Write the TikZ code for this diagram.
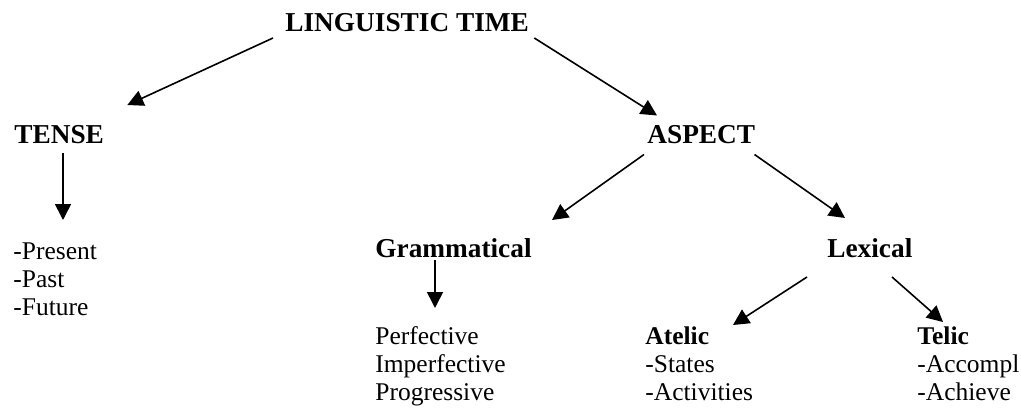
\documentclass[tikz,border=0pt]{standalone}
\usepackage{fontspec}
\setmainfont{Liberation Serif}
\usetikzlibrary{arrows.meta, calc}

\begin{document}
\begin{tikzpicture}[x=0.5pt, y=-0.5pt,
  head/.style={inner sep=0pt, anchor=base west, font=\fontsize{13.65}{16}\selectfont\bfseries},
  items/.style={inner sep=0pt, anchor=base west, align=left, font=\fontsize{12.75}{14}\selectfont},
  arr/.style={-{Triangle[length=8pt, width=8pt]}, line width=0.8pt}]
  \useasboundingbox (0,0) rectangle (1021,407);

  % Top
  \node[head] (ling) at (285, 32) {LINGUISTIC TIME};

  % Tense branch (lists are placed by their last line)
  \node[head] (tense) at (14, 143) {TENSE};
  \node[items] (tenselist) at (13, 315) {-Present\\-Past\\-Future};
  \draw[arr] ($(ling.base west)+(-12,6)$) -- ($(tense.base east)+(23,-38)$);
  \draw[arr] ($(tense.base west)+(49,10)$) -- ($(tenselist.base west)+(50,-95)$);

  % Aspect branch
  \node[head] (aspect) at (647, 143.5) {ASPECT};
  \draw[arr] ($(ling.base east)+(5,6)$) -- ($(aspect.base west)+(10,-28)$);

  \node[head] (gram) at (375, 257) {Grammatical};
  \node[items] (gramlist) at (375, 400) {Perfective\\Imperfective\\Progressive};
  \draw[arr] ($(aspect.base west)+(-3,11)$) -- ($(gram.base east)+(20,-37)$);
  \draw[arr] ($(gram.base west)+(60,3)$) -- ($(gramlist.base west)+(60,-92)$);

  \node[head] (lex) at (827, 257) {Lexical};
  \draw[arr] ($(aspect.base east)+(-1,11)$) -- ($(lex.base west)+(18,-39)$);

  % Lexical subtypes
  \node[items] (atelic) at (645, 400) {\textbf{Atelic}\\-States\\-Activities};
  \node[items] (telic) at (917, 400) {\textbf{Telic}\\-Accompl\\-Achieve};
  \draw[arr] ($(lex.base west)+(-20,20)$) -- ($(atelic.base west)+(88,-75)$);
  \draw[arr] ($(lex.base west)+(65,20)$) -- ($(telic.base west)+(26,-78)$);
\end{tikzpicture}
\end{document}
